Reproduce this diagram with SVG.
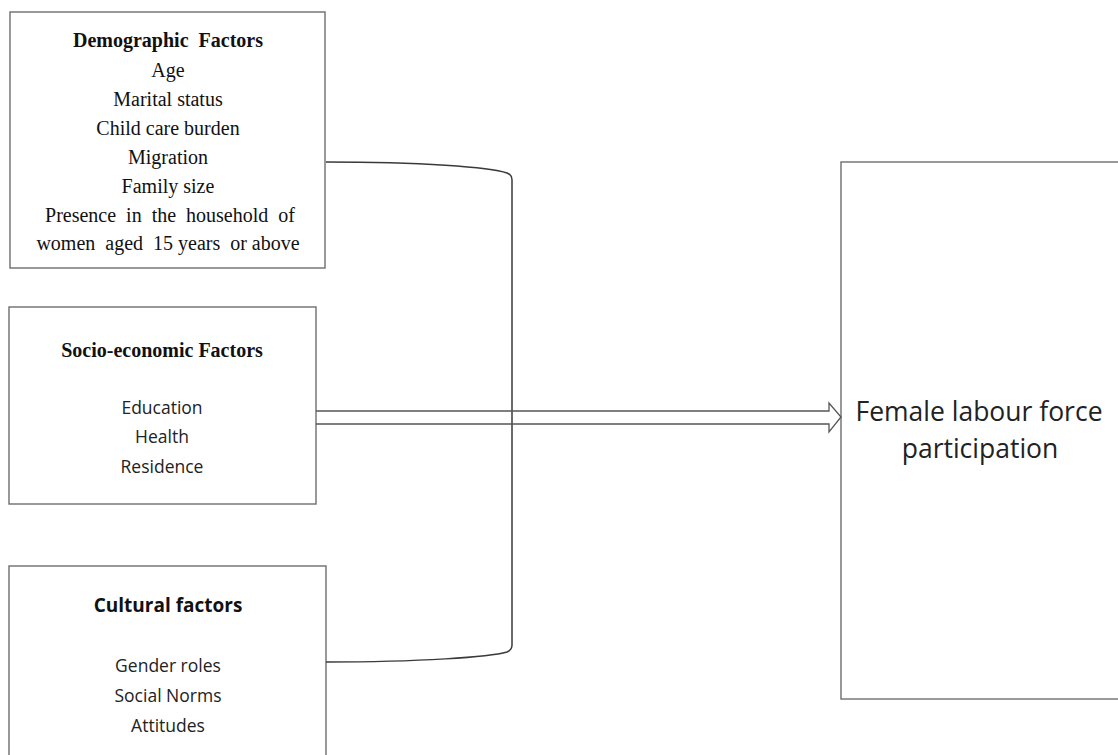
<svg xmlns="http://www.w3.org/2000/svg" width="1118" height="755" viewBox="0 0 1118 755">
<style>
.box{fill:#fff;stroke:#6e6e6e;stroke-width:1.4}
.conn{fill:none;stroke:#3a3a3a;stroke-width:1.5}
.arr{fill:none;stroke:#555;stroke-width:1.3}
.serif{font-family:"Liberation Serif","Times New Roman",serif;font-size:20px;fill:#111;text-anchor:middle}
.serifb{font-family:"Liberation Serif","Times New Roman",serif;font-size:20px;font-weight:bold;fill:#111;text-anchor:middle}
.sans{font-family:"Open Sans","Noto Sans",sans-serif;font-size:17.5px;fill:#222;text-anchor:middle}
.sansb{font-family:"Open Sans","Noto Sans",sans-serif;font-size:19px;font-weight:bold;fill:#111;text-anchor:middle}
.big{font-family:"Open Sans","Noto Sans",sans-serif;font-size:26.5px;fill:#222;text-anchor:middle}
</style>
<rect width="1118" height="755" fill="#fff"/>
<g id="demographic">
<rect class="box" x="10" y="12" width="315" height="256"/>
<text class="serifb" x="168" y="47" xml:space="preserve">Demographic  Factors</text>
<text class="serif" x="168" y="77">Age</text>
<text class="serif" x="168" y="106">Marital status</text>
<text class="serif" x="168" y="135">Child care burden</text>
<text class="serif" x="168" y="164">Migration</text>
<text class="serif" x="168" y="193">Family size</text>
<text class="serif" x="170" y="222" xml:space="preserve">Presence  in  the  household  of</text>
<text class="serif" x="168" y="250" xml:space="preserve">women  aged  15 years  or above</text>
</g>
<g id="socioeconomic">
<rect class="box" x="9" y="307" width="307" height="197"/>
<text class="serifb" x="162" y="357">Socio-economic Factors</text>
<text class="sans" x="162" y="414">Education</text>
<text class="sans" x="162" y="443">Health</text>
<text class="sans" x="162" y="473">Residence</text>
</g>
<g id="cultural">
<rect class="box" x="9" y="566" width="317" height="200"/>
<text class="sansb" x="168" y="612">Cultural factors</text>
<text class="sans" x="168" y="672">Gender roles</text>
<text class="sans" x="168" y="702">Social Norms</text>
<text class="sans" x="168" y="732">Attitudes</text>
</g>
<g id="flfp">
<rect class="box" x="841" y="162" width="290" height="537"/>
<text class="big" x="979" y="421">Female labour force</text>
<text class="big" x="980" y="458">participation</text>
</g>
<g id="connectors">
<path class="conn" d="M326,162 C420,162 490,167 507,173 Q512,175 512,180 V645 Q512,650 507,652 C490,657 420,662 326,662"/>
<path class="arr" d="M316,411 H829 V403 L841,417 L829,432 V424 H316"/>
</g>
</svg>
